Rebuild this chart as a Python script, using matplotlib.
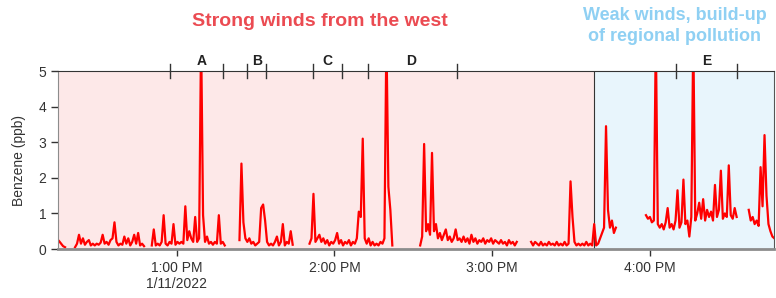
import numpy as np
import matplotlib
matplotlib.use('Agg')
import matplotlib.pyplot as plt
import matplotlib.transforms as mtransforms

plt.rcParams['font.family'] = ['Liberation Sans', 'DejaVu Sans']

# benzene (ppb), minutes after 12:00 PM on 1/11/2022, one sample every 0.75 min
step = 0.75
seg_start = [14.5, 21.3, 50.5, 83.85, 110.5, 152.6, 194.8, 238.5, 277.6]
seg_vals = [
    [0.28, 0.22, 0.15, 0.08, 0.05],
    [0.05, 0.15, 0.4, 0.15, 0.3, 0.12, 0.2, 0.25, 0.1, 0.15, 0.1, 0.15, 0.12, 0.18,
     0.4, 0.15, 0.2, 0.12, 0.25, 0.3, 0.75, 0.2, 0.1, 0.15, 0.12, 0.35, 0.15, 0.3,
     0.1, 0.2, 0.4, 0.15, 0.45, 0.1, 0.15, 0.08],
    [0.1, 0.55, 0.1, 0.15, 0.1, 0.2, 0.95, 0.15, 0.1, 0.2, 0.15, 0.7, 0.12, 0.2,
     0.15, 0.2, 0.15, 1.2, 0.25, 0.5, 0.3, 0.2, 0.9, 0.2, 0.3, 6.0, 0.95, 0.2, 0.35,
     0.15, 0.2, 0.12, 0.2, 0.15, 0.95, 0.15, 0.2, 0.1],
    [0.25, 2.4, 0.75, 0.3, 0.2, 0.3, 0.15, 0.2, 0.1, 0.15, 0.2, 1.15, 1.25, 0.8,
     0.2, 0.1, 0.15, 0.1, 0.2, 0.35, 0.1, 0.2, 0.7, 0.1, 0.2, 0.15, 0.5, 0.12],
    [0.15, 0.3, 1.55, 0.2, 0.3, 0.4, 0.2, 0.3, 0.15, 0.25, 0.1, 0.2, 0.15, 0.25,
     0.45, 0.15, 0.25, 0.1, 0.2, 0.15, 0.25, 0.1, 0.2, 0.15, 0.3, 1.05, 0.9, 3.1,
     0.3, 0.15, 0.3, 0.1, 0.2, 0.1, 0.15, 0.1, 0.2, 0.15, 0.3, 6.0, 1.75, 1.1, 0.1],
    [0.1, 0.35, 2.95, 0.5, 0.7, 0.4, 2.7, 0.5, 0.7, 0.3, 0.45, 0.25, 0.4, 0.55,
     0.25, 0.35, 0.2, 0.3, 0.55, 0.25, 0.3, 0.2, 0.35, 0.2, 0.3, 0.15, 0.4, 0.2,
     0.3, 0.15, 0.25, 0.2, 0.3, 0.15, 0.25, 0.2, 0.3, 0.15, 0.25, 0.2, 0.15, 0.25,
     0.15, 0.2, 0.1, 0.25, 0.15, 0.2, 0.1, 0.2],
    [0.2, 0.1, 0.2, 0.15, 0.1, 0.2, 0.1, 0.15, 0.1, 0.2, 0.12, 0.15, 0.1, 0.2,
     0.1, 0.15, 0.1, 0.2, 0.1, 0.15, 1.9, 0.9, 0.2, 0.1, 0.15, 0.1, 0.15, 0.1,
     0.2, 0.1, 0.15, 0.1, 0.7, 0.1, 0.15, 0.3, 0.45, 0.6, 3.45, 1.1, 0.6, 0.8,
     0.45, 0.6],
    [0.95, 0.85, 0.9, 0.75, 0.8, 6.0, 0.7, 0.6, 0.7, 0.55, 0.75, 1.15, 0.6, 0.7,
     0.55, 0.8, 1.65, 0.6, 0.75, 1.95, 0.7, 0.8, 0.35, 0.9, 6.0, 0.8, 1.0, 1.3,
     0.85, 1.4, 0.8, 1.1, 0.9, 1.05, 0.8, 1.8, 0.9, 1.1, 2.2, 0.85, 1.0, 0.9, 2.35,
     0.95, 0.85, 1.15, 0.9],
    [1.1, 0.8, 0.9, 0.7, 0.8, 0.65, 2.3, 1.2, 3.2, 1.5, 0.7, 0.5, 0.35, 0.3],
]

period_edges = [57.6, 77.5, 86.6, 93.8, 112.0, 122.7, 132.9, 166.7, 249.9, 273.0]
period_names = ['A', 'B', 'C', 'D', 'E']
period_pos = [69.5, 90.4, 117.3, 149.2, 261.6]

regime_change = 218.7
xticks = [60, 120, 180, 240]
xlabels = ['1:00 PM\n1/11/2022', '2:00 PM', '3:00 PM', '4:00 PM']

t = []
y = []
for s, vals in zip(seg_start, seg_vals):
    t += list(s + step * np.arange(len(vals)))
    y += vals
    t.append(np.nan)
    y.append(np.nan)

fig = plt.figure(figsize=(7.76, 2.98), dpi=100)
ax = fig.add_axes([0.0747, 0.1644, 0.9227, 0.5973])
xmin, xmax = 14.8, 287.2

ax.axvspan(xmin, regime_change, color='#fde8e8', zorder=0, lw=0)
ax.axvspan(regime_change, xmax, color='#e8f5fc', zorder=0, lw=0)
ax.axvline(regime_change, color='#333333', lw=0.8, zorder=1)
ax.plot(t, y, color='#ff0000', lw=1.6, zorder=2)

ax.set_xlim(xmin, xmax)
ax.set_ylim(0, 5)
ax.set_yticks(range(6))
ax.set_xticks(xticks)
ax.set_xticklabels(xlabels)
ax.set_ylabel('Benzene (ppb)', fontsize=10, color='#333333', labelpad=9)
ax.tick_params(axis='both', labelsize=10, colors='#333333', length=5, width=1)

ax.spines['bottom'].set_color('#8c8c8c')
ax.spines['bottom'].set_linewidth(2)
ax.spines['left'].set_color('#8c8c8c')
ax.spines['top'].set_color('#333333')
ax.spines['top'].set_linewidth(0.8)
ax.spines['right'].set_color('#555555')
ax.spines['right'].set_linewidth(0.8)

trans = mtransforms.blended_transform_factory(ax.transData, ax.transAxes)
for e in period_edges:
    ax.plot([e, e], [0.96, 1.04], transform=trans, color='#333333', lw=1, clip_on=False)
for name, p in zip(period_names, period_pos):
    ax.text(p, 1.058, name, transform=trans, ha='center', va='center',
            fontsize=10, fontweight='bold', color='#222222')

fig.text(320 / 776, 1 - 22 / 298, 'Strong winds from the west', color='#eb4b52',
         fontsize=14, fontweight='bold', ha='center', va='center')
fig.text(675 / 776, 1 - 26 / 298, 'Weak winds, build-up\nof regional pollution',
         color='#8fd0f3', fontsize=13, fontweight='bold', ha='center', va='center',
         linespacing=1.3)

fig.savefig('out.png', dpi=100)
